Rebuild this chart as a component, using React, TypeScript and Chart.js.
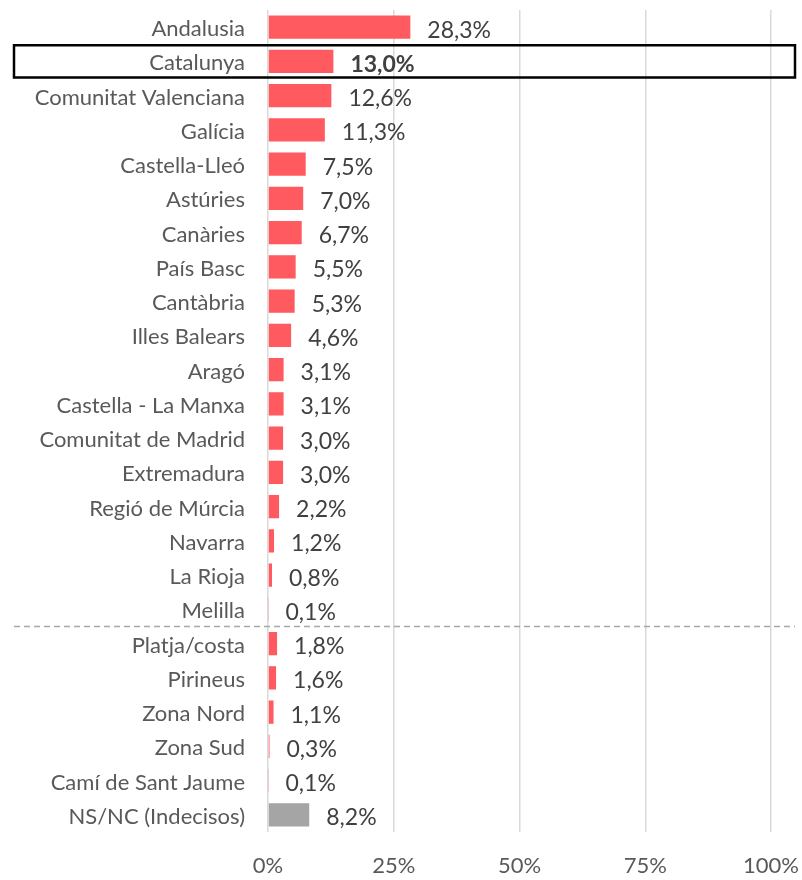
import React, { useEffect, useRef } from "react";
import { Chart, registerables } from "chart.js";

Chart.register(...registerables);

const categories = [
  "Andalusia",
  "Catalunya",
  "Comunitat Valenciana",
  "Galícia",
  "Castella-Lleó",
  "Astúries",
  "Canàries",
  "País Basc",
  "Cantàbria",
  "Illes Balears",
  "Aragó",
  "Castella - La Manxa",
  "Comunitat de Madrid",
  "Extremadura",
  "Regió de Múrcia",
  "Navarra",
  "La Rioja",
  "Melilla",
  "Platja/costa",
  "Pirineus",
  "Zona Nord",
  "Zona Sud",
  "Camí de Sant Jaume",
  "NS/NC (Indecisos)",
];

const values = [
  28.3, 13.0, 12.6, 11.3, 7.5, 7.0, 6.7, 5.5, 5.3, 4.6, 3.1, 3.1, 3.0, 3.0, 2.2,
  1.2, 0.8, 0.1, 1.8, 1.6, 1.1, 0.3, 0.1, 8.2,
];

const xTicks = [0, 25, 50, 75, 100];

const highlightIndex = 1; // Catalunya
const separatorAfterIndex = 17; // Melilla
const undecidedIndex = 23;

const FONT = "Lato, 'Open Sans', sans-serif";

const zeroPad = (scale: any) => {
  scale.paddingLeft = 0;
  scale.paddingRight = 0;
  scale.paddingTop = 0;
  scale.paddingBottom = 0;
};

const overlayPlugin = {
  id: "overlay",
  afterDatasetsDraw(chart: any) {
    const ctx = chart.ctx;
    const meta = chart.getDatasetMeta(0);
    const yScale = chart.scales.y;
    ctx.save();
    meta.data.forEach((bar: any, i: number) => {
      const v = values[i];
      const txt = v.toFixed(1).replace(".", ",") + "%";
      ctx.font = (i === highlightIndex ? "bold " : "") + "23px " + FONT;
      ctx.fillStyle = "#404040";
      ctx.textAlign = "left";
      ctx.textBaseline = "middle";
      ctx.fillText(txt, bar.x + 17, bar.y + 3);
    });
    const step = yScale.getPixelForValue(1) - yScale.getPixelForValue(0);
    const ySep =
      (yScale.getPixelForValue(separatorAfterIndex) +
        yScale.getPixelForValue(separatorAfterIndex + 1)) /
      2;
    ctx.strokeStyle = "#A6A6A6";
    ctx.lineWidth = 1.5;
    ctx.setLineDash([6, 4]);
    ctx.beginPath();
    ctx.moveTo(14, ySep);
    ctx.lineTo(795, ySep);
    ctx.stroke();
    ctx.setLineDash([]);
    const yc = yScale.getPixelForValue(highlightIndex);
    ctx.strokeStyle = "#000000";
    ctx.lineWidth = 2.5;
    ctx.strokeRect(14, yc - step / 2 + 1, 781, step - 2);
    ctx.restore();
  },
};

export default function App() {
  const ref = useRef<HTMLCanvasElement | null>(null);
  useEffect(() => {
    if (!ref.current) return;
    const chart = new Chart(ref.current, {
      type: "bar",
      data: {
        labels: categories,
        datasets: [
          {
            data: values,
            backgroundColor: values.map((_, i) =>
              i === undecidedIndex ? "#A5A5A5" : "#FF5A5F"
            ),
            barPercentage: 0.68,
            categoryPercentage: 1,
          },
        ],
      },
      options: {
        indexAxis: "y",
        animation: false,
        responsive: false,
        maintainAspectRatio: false,
        layout: { padding: { top: 10, right: 31, bottom: 0, left: 0 } },
        plugins: {
          legend: { display: false },
          tooltip: { enabled: false },
        },
        scales: {
          x: {
            min: 0,
            max: 100,
            afterBuildTicks: (scale: any) => {
              scale.ticks = xTicks.map((v) => ({ value: v }));
            },
            afterFit: (scale: any) => {
              scale.height = 48;
              zeroPad(scale);
            },
            grid: { color: "#D9D9D9", lineWidth: 1.5, drawTicks: false },
            border: { display: false },
            ticks: {
              padding: 21,
              color: "#595959",
              font: { family: FONT, size: 22 },
              callback: (v: any) => v + "%",
            },
          },
          y: {
            afterFit: (scale: any) => {
              scale.width = 268;
              zeroPad(scale);
            },
            grid: { display: false, drawTicks: false },
            border: { display: false },
            ticks: {
              padding: 23,
              labelOffset: 2,
              color: "#595959",
              font: { family: FONT, size: 22 },
              autoSkip: false,
            },
          },
        },
      },
      plugins: [overlayPlugin],
    });
    return () => chart.destroy();
  }, []);
  return (
    <div style={{ position: "fixed", left: 0, top: 0, width: 802, height: 880, background: "#fff" }}>
      <canvas ref={ref} width={802} height={880} style={{ width: 802, height: 880 }} />
    </div>
  );
}
